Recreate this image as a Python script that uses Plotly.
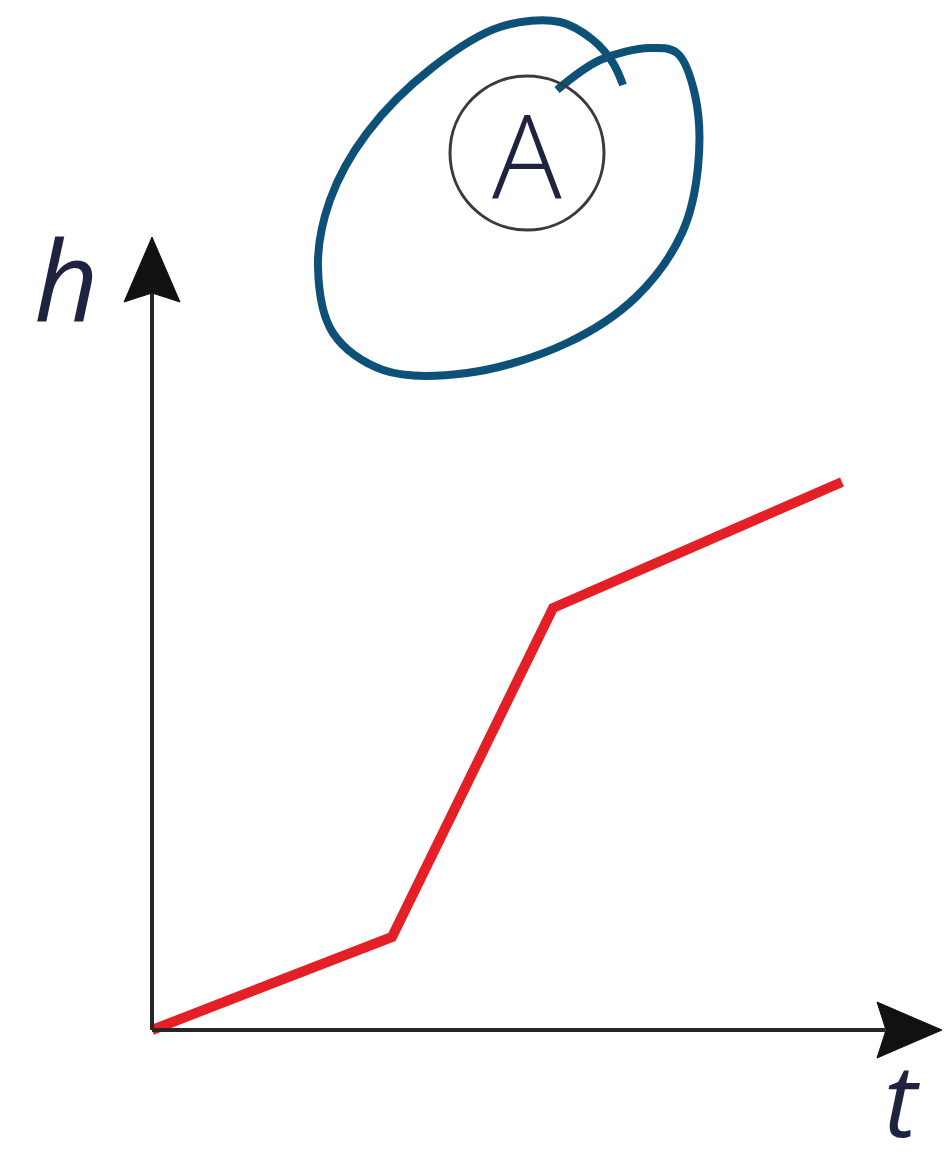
import plotly.graph_objects as go

# Height h over time t: three straight segments with different slopes
t_vals = [0.0, 2.40, 4.01, 6.90]
h_vals = [0.0, 0.93, 4.22, 5.48]

# Hand-drawn loop around the labelled vessel "A"
loop_t = [4.05, 4.48, 4.98, 5.25, 5.43, 5.46, 5.30, 4.84, 4.15, 3.15, 2.31,
          1.81, 1.66, 1.78, 2.15, 2.81, 3.48, 4.08, 4.41, 4.61, 4.71]
loop_h = [9.40, 9.70, 9.82, 9.77, 9.35, 8.63, 7.97, 7.33, 6.87, 6.57, 6.60,
          6.97, 7.63, 8.30, 8.97, 9.63, 10.03, 10.08, 9.90, 9.67, 9.45]

label_center = (3.75, 8.77)
label_radius = 0.77
label_text = "A"

x_axis_end = 7.90
y_axis_end = 7.93

AXIS_COLOR = "#262626"
RED = "#e41f26"
BLUE = "#0d5078"
TEXT_COLOR = "#1e2340"

fig = go.Figure()

fig.add_trace(go.Scatter(
    x=loop_t, y=loop_h, mode="lines",
    line=dict(color=BLUE, width=8, shape="spline", smoothing=1.0),
    hoverinfo="skip", showlegend=False,
))

fig.add_trace(go.Scatter(
    x=t_vals, y=h_vals, mode="lines",
    line=dict(color=RED, width=10),
    showlegend=False,
))

shapes = []
# axis lines (stop at the notch of each arrowhead)
shapes.append(dict(type="line", xref="x", yref="y", x0=0, y0=0, x1=x_axis_end - 0.57, y1=0,
                   line=dict(color=AXIS_COLOR, width=4)))
shapes.append(dict(type="line", xref="x", yref="y", x0=0, y0=0, x1=0, y1=y_axis_end - 0.55,
                   line=dict(color=AXIS_COLOR, width=4)))
# arrowheads
hl, hw, notch = 0.65, 0.28, 0.56
shapes.append(dict(
    type="path", xref="x", yref="y",
    path=(f"M {x_axis_end},0 L {x_axis_end - hl},{hw} L {x_axis_end - notch},0 "
          f"L {x_axis_end - hl},{-hw} Z"),
    fillcolor="#111111", line=dict(color="#111111", width=1),
))
shapes.append(dict(
    type="path", xref="x", yref="y",
    path=(f"M 0,{y_axis_end} L {-hw},{y_axis_end - hl} L 0,{y_axis_end - notch} "
          f"L {hw},{y_axis_end - hl} Z"),
    fillcolor="#111111", line=dict(color="#111111", width=1),
))
# circle around the label
cx, cy = label_center
shapes.append(dict(
    type="circle", xref="x", yref="y",
    x0=cx - label_radius, x1=cx + label_radius,
    y0=cy - label_radius, y1=cy + label_radius,
    line=dict(color="#3a3a3a", width=3),
))

annotations = [
    dict(x=cx, y=cy, xref="x", yref="y", text=label_text, showarrow=False,
         font=dict(family="Open Sans", size=116, color=TEXT_COLOR, weight=300),
         xanchor="center", yanchor="middle"),
    dict(x=-0.86, y=7.53, xref="x", yref="y", text="<i>h</i>", showarrow=False,
         font=dict(family="Open Sans", size=112, color=TEXT_COLOR),
         xanchor="center", yanchor="middle"),
    dict(x=7.50, y=-0.68, xref="x", yref="y", text="<i>t</i>", showarrow=False,
         font=dict(family="Open Sans", size=100, color=TEXT_COLOR),
         xanchor="center", yanchor="middle"),
]

fig.update_layout(
    width=944, height=1165,
    margin=dict(l=0, r=0, t=0, b=0),
    paper_bgcolor="white", plot_bgcolor="white",
    shapes=shapes, annotations=annotations,
    xaxis=dict(range=[-1.52, 7.92], visible=False, fixedrange=True),
    yaxis=dict(range=[-1.35, 10.30], visible=False, fixedrange=True),
    showlegend=False,
)

fig.write_html("out.html")
